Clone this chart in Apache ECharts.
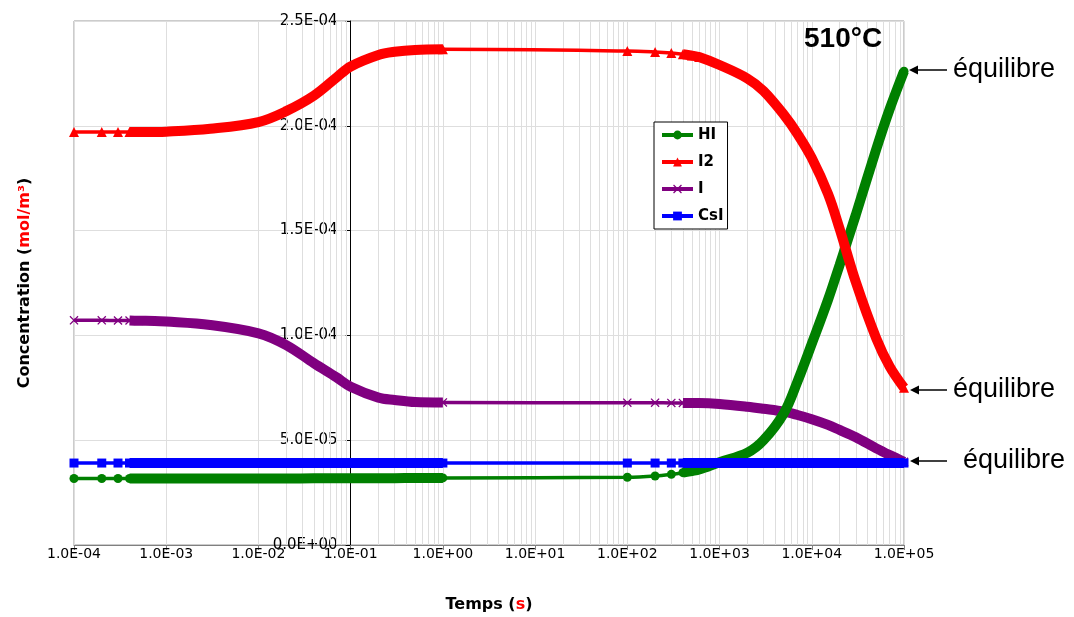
<!DOCTYPE html>
<html><head><meta charset="utf-8">
<script src="https://cdn.jsdelivr.net/npm/echarts@6/dist/echarts.min.js"></script>
<style>html,body{margin:0;padding:0;background:#fff}#c{width:1074px;height:617px}</style>
</head><body><div id="c"></div>
<script>
// ---- data ----
const timesA = [1e-4,2e-4,3e-4,4e-4,5e-4,6e-4,1e-3,3e-3,1e-2,2e-2,4e-2,7e-2,1e-1,2e-1,3e-1,5e-1,1e0];
const timesB = [1e2,2e2,3e2,4e2,5e2,6e2,1e3,2e3,3e3,5e3,7e3,1e4,1.5e4,2e4,3e4,5e4,7e4,1e5];
const hiA  = [3.17e-5,3.17e-5,3.17e-5,3.17e-5,3.17e-5,3.17e-5,3.17e-5,3.17e-5,3.17e-5,3.17e-5,3.18e-5,3.18e-5,3.18e-5,3.19e-5,3.19e-5,3.2e-5,3.2e-5];
const hiB  = [3.23e-5,3.29e-5,3.37e-5,3.45e-5,3.53e-5,3.6e-5,3.95e-5,4.4e-5,5.0e-5,6.3e-5,7.8e-5,9.6e-5,1.17e-4,1.335e-4,1.575e-4,1.888e-4,2.08e-4,2.26e-4];
const i2A  = [1.97e-4,1.97e-4,1.97e-4,1.97e-4,1.97e-4,1.97e-4,1.972e-4,1.986e-4,2.018e-4,2.07e-4,2.144e-4,2.23e-4,2.283e-4,2.338e-4,2.353e-4,2.362e-4,2.365e-4];
const i2B  = [2.357e-4,2.352e-4,2.347e-4,2.341e-4,2.335e-4,2.328e-4,2.29e-4,2.226e-4,2.166e-4,2.052e-4,1.961e-4,1.846e-4,1.675e-4,1.51e-4,1.255e-4,9.86e-5,8.51e-5,7.5e-5];
const iA   = [1.072e-4,1.072e-4,1.071e-4,1.071e-4,1.07e-4,1.07e-4,1.066e-4,1.05e-4,1.01e-4,9.54e-5,8.67e-5,8.0e-5,7.55e-5,7.03e-5,6.92e-5,6.82e-5,6.8e-5];
const iB   = [6.79e-5,6.79e-5,6.78e-5,6.78e-5,6.77e-5,6.77e-5,6.73e-5,6.6e-5,6.5e-5,6.36e-5,6.2e-5,6.0e-5,5.73e-5,5.49e-5,5.14e-5,4.61e-5,4.29e-5,3.97e-5];
const csiA = [3.91e-5,3.91e-5,3.91e-5,3.91e-5,3.91e-5,3.91e-5,3.91e-5,3.91e-5,3.91e-5,3.91e-5,3.91e-5,3.91e-5,3.91e-5,3.91e-5,3.91e-5,3.91e-5,3.91e-5];
const csiB = [3.91e-5,3.91e-5,3.91e-5,3.91e-5,3.91e-5,3.91e-5,3.91e-5,3.91e-5,3.91e-5,3.91e-5,3.91e-5,3.91e-5,3.91e-5,3.91e-5,3.91e-5,3.91e-5,3.91e-5,3.91e-5];
const markerTimes = [1e-4,2e-4,3e-4,4e-4,5e-4,6e-4,1e0,1e2,2e2,3e2,4e2,5e2,6e2,1e5];
const legendNames = ['HI','I2','I','CsI'];
const yTicks = {min:0, max:2.5e-4, step:5e-5};
const xRange = {min:1e-4, max:1e5};
const yAxisAt = 1e-1;
const annotations = ['équilibre','équilibre','équilibre'];
const titleText = '510°C';

// ---- helpers ----
function sci(v){
  if (Math.abs(v) < 1e-30) return '0.0E+00';
  let e = Math.floor(Math.log10(Math.abs(v)) + 1e-9);
  let m = v / Math.pow(10, e);
  if (Math.round(m*10)/10 >= 10) { m /= 10; e += 1; }
  return m.toFixed(1) + 'E' + (e < 0 ? '-' : '+') + String(Math.abs(e)).padStart(2,'0');
}
const markerSet = new Set(markerTimes);
const thickFromA = 4e-4, thickFromB = 4e2;

const species = [
  {name:'I',   color:'#800080', A:iA,   B:iB,   symbol:'path://M0,1 L1,0 L5,4 L9,0 L10,1 L6,5 L10,9 L9,10 L5,6 L1,10 L0,9 L4,5 Z', size:9},
  {name:'HI',  color:'#008000', A:hiA,  B:hiB,  symbol:'circle',   size:9},
  {name:'I2',  color:'#ff0000', A:i2A,  B:i2B,  symbol:'triangle', size:10},
  {name:'CsI', color:'#0000ff', A:csiA, B:csiB, symbol:'rect',     size:9}
];

// minor log grid lines (2..9 x each decade)
const minorVals = [];
for (let e = Math.log10(xRange.min); e < Math.log10(xRange.max); e++) {
  for (let m = 2; m <= 9; m++) minorVals.push(m * Math.pow(10, e));
}

const SMOOTH = 0.35;
const series = [];
series.push({
  type:'line', name:'_grid', data:[], silent:true, z:1,
  markLine:{silent:true, symbol:['none','none'], label:{show:false}, z:1,
    lineStyle:{color:'#dedede', width:1, type:'solid'},
    emphasis:{disabled:true},
    data: minorVals.map(v => ({xAxis:v}))}
});
species.forEach((s, k) => {
  const all = timesA.map((t,i)=>[t,s.A[i]]).concat(timesB.map((t,i)=>[t,s.B[i]]));
  series.push({
    type:'line', name:s.name, z:2+k, smooth:SMOOTH,
    symbol:s.symbol, symbolSize:s.size, showAllSymbol:true,
    itemStyle:{color:s.color}, lineStyle:{color:s.color, width:3.5},
    data: all.map(p => markerSet.has(p[0]) ? {value:p} : {value:p, symbol:'none'}),
    emphasis:{disabled:true}
  });
  const thickA = timesA.map((t,i)=>[t,s.A[i]]).filter(p=>p[0]>=thickFromA);
  const thickB = timesB.map((t,i)=>[t,s.B[i]]).filter(p=>p[0]>=thickFromB);
  [thickA, thickB].forEach(d => series.push({
    type:'line', name:s.name, z:2+k, smooth:SMOOTH, symbol:'none',
    lineStyle:{color:s.color, width:10}, data:d, emphasis:{disabled:true}
  }));
});

const GL = 74, GR = 170, GT = 21, GB = 72;
const boldTxt = {fontFamily:'DejaVu Sans', fontWeight:'bold', fontSize:16, color:'#000'};
const redTxt  = {fontFamily:'DejaVu Sans', fontWeight:'bold', fontSize:16, color:'#ff0000'};

function arrow(xTip, y, xTail, label, xText){
  return [
    {type:'line', shape:{x1:xTip+6, y1:y, x2:xTail, y2:y}, style:{stroke:'#000', lineWidth:1.5}},
    {type:'polygon', shape:{points:[[xTip,y],[xTip+9,y-4.5],[xTip+9,y+4.5]]}, style:{fill:'#000'}},
    {type:'text', x:xText, y:y, style:{text:label, fontFamily:'Liberation Sans', fontSize:27, fill:'#000', verticalAlign:'middle', align:'left'}}
  ];
}

const option = {
  animation:false,
  backgroundColor:'#fff',
  grid:{left:GL, right:GR, top:GT, bottom:GB, show:true, borderColor:'#999', borderWidth:1,
        containLabel:false, outerBoundsMode:'none'},
  legend:{
    data:legendNames, orient:'vertical', left:654, top:122,
    backgroundColor:'#fff', borderColor:'#000', borderWidth:1, borderRadius:0,
    padding:[5,4,5,6], itemWidth:31, itemHeight:11, itemGap:11,
    lineStyle:{width:4},
    textStyle:{fontFamily:'DejaVu Sans', fontWeight:'bold', fontSize:15, color:'#000', lineHeight:16},
    selectedMode:false
  },
  title:{text:titleText, left:799, top:20, textStyle:{fontFamily:'Liberation Sans', fontWeight:'bold', fontSize:28, color:'#000'}},
  xAxis:{
    type:'log', logBase:10, min:xRange.min, max:xRange.max, splitNumber:9,
    axisLine:{show:true, lineStyle:{color:'#808080', width:1}},
    axisTick:{show:true, length:5, lineStyle:{color:'#808080'}},
    axisLabel:{formatter:sci, color:'#000', fontFamily:'DejaVu Sans', fontSize:14, margin:2},
    splitLine:{show:true, lineStyle:{color:'#dedede', width:1}},
    minorTick:{show:false}, minorSplitLine:{show:false},
    name:'{b|Temps (}{r|s}{b|)}', nameLocation:'middle', nameGap:52,
    nameTextStyle:{rich:{b:boldTxt, r:redTxt}}
  },
  yAxis:{
    type:'value', min:yTicks.min, max:yTicks.max, interval:yTicks.step, offset:0,
    axisLine:{show:true, onZero:false, lineStyle:{color:'#000', width:1}},
    axisTick:{show:true, length:5, lineStyle:{color:'#000'}},
    axisLabel:{formatter:sci, color:'#000', fontFamily:'DejaVu Sans', fontSize:15, margin:13},
    splitLine:{show:true, lineStyle:{color:'#dedede', width:1}},
    name:'{b|Concentration (}{r|mol/m³}{b|)}', nameLocation:'middle', nameGap:318,
    nameTextStyle:{rich:{b:boldTxt, r:redTxt}}
  },
  graphic:[].concat(
    arrow(909, 70, 947, annotations[0], 953),
    arrow(910, 390, 947, annotations[1], 953),
    arrow(910, 461, 947, annotations[2], 963)
  ),
  series:series
};

const chart = echarts.init(document.getElementById('c'), null, {renderer:'canvas'});
chart.setOption(option);
const px = chart.convertToPixel({xAxisIndex:0}, yAxisAt);
const px0 = chart.convertToPixel({xAxisIndex:0}, xRange.min);
chart.setOption({yAxis:{offset: px0 - px}});
</script></body></html>
